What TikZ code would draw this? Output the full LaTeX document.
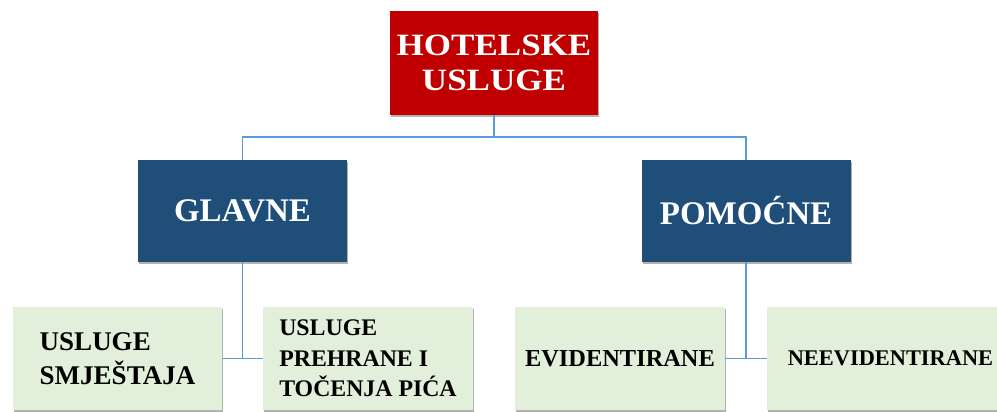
\documentclass[tikz,border=0pt]{standalone}
\usepackage{fontspec}
\setmainfont{Liberation Serif}
\newfontfamily\widefont[FakeStretch=1.13]{Liberation Serif}
\usetikzlibrary{shadows}

\definecolor{hotelred}{RGB}{192,0,0}
\definecolor{groupblue}{RGB}{31,78,121}
\definecolor{leafgreen}{RGB}{226,239,218}
\definecolor{linkblue}{RGB}{91,155,213}

\tikzset{
  box/.style={rectangle, inner sep=0pt,
    drop shadow={shadow xshift=1.2pt, shadow yshift=-1.6pt, fill=black, opacity=0.3}},
  topbox/.style={box, fill=hotelred, text=white, minimum width=208pt, minimum height=104pt,
    align=center, font=\widefont\bfseries\fontsize{31}{35}\selectfont},
  groupbox/.style={box, fill=groupblue, text=white, minimum width=209pt, minimum height=102pt,
    font=\bfseries\fontsize{33}{36}\selectfont},
  leafbox/.style={box, fill=leafgreen, text=black, minimum height=103pt, align=left},
  link/.style={draw=linkblue, line width=1.7pt},
}

\begin{document}
\begin{tikzpicture}[x=1pt,y=1pt,yscale=-1]
  \useasboundingbox (0,0) rectangle (997,412);

  % top level
  \node [topbox] (hotel) at (494,63) {HOTELSKE\\USLUGE};

  % groups
  \node [groupbox] (glavne) at (242.5,211) {GLAVNE};
  \node [groupbox] (pomocne) at (746,211) {POMOĆNE};

  % leaves
  \node [leafbox, minimum width=209pt, font=\bfseries\fontsize{27}{34}\selectfont]
    (smjestaj) at (117.5,358.5) {USLUGE\\SMJEŠTAJA};
  \node [leafbox, minimum width=210pt, font=\bfseries\fontsize{23.8}{30.5}\selectfont]
    (prehrana) at (368,358.5) {USLUGE\\PREHRANE I\\TOČENJA PIĆA};
  \node [leafbox, minimum width=210pt, font=\bfseries\fontsize{24.4}{30}\selectfont]
    (evid) at (620,358.5) {EVIDENTIRANE};
  \node [leafbox, minimum width=247pt, font=\bfseries\fontsize{22.4}{30}\selectfont]
    (neevid) at (890.5,358.5) {NEEVIDENTIRANE};

  % connectors
  \draw [link] (hotel.south) -- ++(0,22) coordinate (bus);
  \draw [link] (glavne.north) |- (bus) -| (pomocne.north);
  \draw [link] (glavne.south) -- (glavne.south |- smjestaj.east);
  \draw [link] (smjestaj.east) -- (prehrana.west);
  \draw [link] (pomocne.south) -- (pomocne.south |- evid.east);
  \draw [link] (evid.east) -- (neevid.west);
\end{tikzpicture}
\end{document}
